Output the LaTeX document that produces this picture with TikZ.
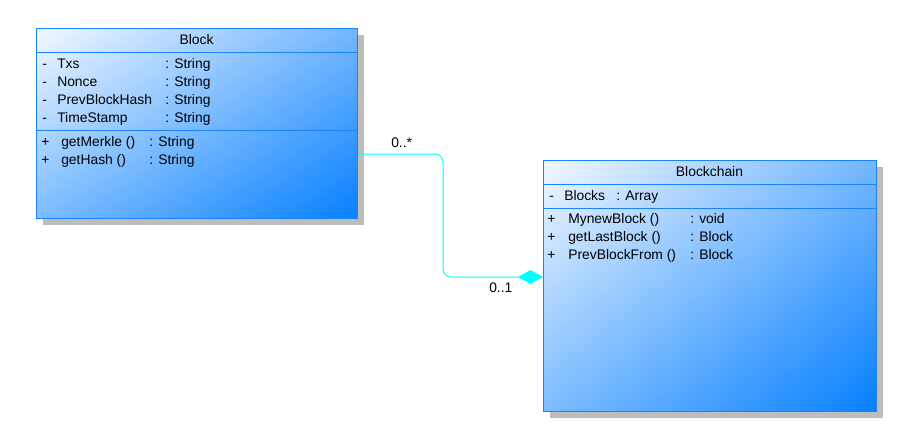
\documentclass[tikz,border=0pt]{standalone}
\usepackage{fontspec}
\setmainfont{Liberation Sans}
\usetikzlibrary{shadings,shadows}
\definecolor{boxborder}{HTML}{1A82FF}
\definecolor{gul}{HTML}{F2F8FF}
\definecolor{gur}{HTML}{72B6FF}
\definecolor{gll}{HTML}{7CBCFF}
\definecolor{glr}{HTML}{0680FF}
\definecolor{shadowgray}{HTML}{BDBDBD}
\definecolor{connc}{HTML}{00FFFF}
\tikzset{
  umlbox/.style={rectangle, draw=boxborder, line width=0.75pt, inner sep=0pt, anchor=north west,
    upper left=gul, upper right=gur, lower left=gll, lower right=glr,
    drop shadow={shadow xshift=4.9pt, shadow yshift=-4.9pt, fill=shadowgray, opacity=1}},
  sepline/.style={draw=boxborder, line width=0.75pt},
  txt/.style={anchor=base west, inner sep=0pt, font=\fontsize{10.4}{12}\selectfont},
  ttl/.style={anchor=base, inner sep=0pt, font=\fontsize{10.4}{12}\selectfont},
  conn/.style={draw=connc, line width=0.75pt, rounded corners=6pt},
}
\begin{document}
\begin{tikzpicture}[x=0.75pt,y=-0.75pt]
\useasboundingbox (0,0) rectangle (903,429);
\fill[white] (0,0) rectangle (903,429);
% Block class
\node[umlbox, minimum width=240.75pt, minimum height=142.5pt] (block) at (36,28) {};
\draw[sepline] ([yshift=-18pt]block.north west) -- ([yshift=-18pt]block.north east);
\draw[sepline] ([yshift=-76.5pt]block.north west) -- ([yshift=-76.5pt]block.north east);
\node[ttl] (blockttl) at (196.5,44) {Block};
\node[txt] (b1a) at (42,68) {-};
\node[txt] (b1b) at (57,68) {Txs};
\node[txt] (b1c) at (165,68) {: String};
\node[txt] (b2a) at (42,86) {-};
\node[txt] (b2b) at (57,86) {Nonce};
\node[txt] (b2c) at (165,86) {: String};
\node[txt] (b3a) at (42,104) {-};
\node[txt] (b3b) at (57,104) {PrevBlockHash};
\node[txt] (b3c) at (165,104) {: String};
\node[txt] (b4a) at (42,122) {-};
\node[txt] (b4b) at (57,122) {TimeStamp};
\node[txt] (b4c) at (165,122) {: String};
\node[txt] (bm1a) at (41,146) {+};
\node[txt] (bm1b) at (61,146) {getMerkle ()};
\node[txt] (bm1c) at (149,146) {: String};
\node[txt] (bm2a) at (41,164) {+};
\node[txt] (bm2b) at (61,164) {getHash ()};
\node[txt] (bm2c) at (149,164) {: String};
% Blockchain class
\node[umlbox, minimum width=249.75pt, minimum height=188.25pt] (chain) at (543,160) {};
\draw[sepline] ([yshift=-18pt]chain.north west) -- ([yshift=-18pt]chain.north east);
\draw[sepline] ([yshift=-36pt]chain.north west) -- ([yshift=-36pt]chain.north east);
\node[ttl] (chainttl) at (709.5,176) {Blockchain};
\node[txt] (c1a) at (549,200) {-};
\node[txt] (c1b) at (564,200) {Blocks};
\node[txt] (c1c) at (616,200) {: Array};
\node[txt] (cm1a) at (547,223) {+};
\node[txt] (cm1b) at (568,223) {MynewBlock ()};
\node[txt] (cm1c) at (690,223) {: void};
\node[txt] (cm2a) at (547,241) {+};
\node[txt] (cm2b) at (568,241) {getLastBlock ()};
\node[txt] (cm2c) at (690,241) {: Block};
\node[txt] (cm3a) at (547,259) {+};
\node[txt] (cm3b) at (568,259) {PrevBlockFrom ()};
\node[txt] (cm3c) at (690,259) {: Block};
% connector
\coordinate (s) at ([yshift=-94.5pt]block.north east);
\coordinate (e) at ([yshift=-87.75pt]chain.north west);
\coordinate (dt) at ([xshift=-18.75pt]e);
\coordinate (bend) at (443,210);
\draw[conn] (s) -| (bend) |- (dt);
\fill[connc] (e) -- ++(-9.375pt,5.25pt) -- ++(-9.375pt,-5.25pt) -- ++(9.375pt,-5.25pt) -- cycle;
\node[txt] (lab1) at (391,147) {0..*};
\node[txt] (lab2) at (489,292) {0..1};
\end{tikzpicture}
\end{document}
